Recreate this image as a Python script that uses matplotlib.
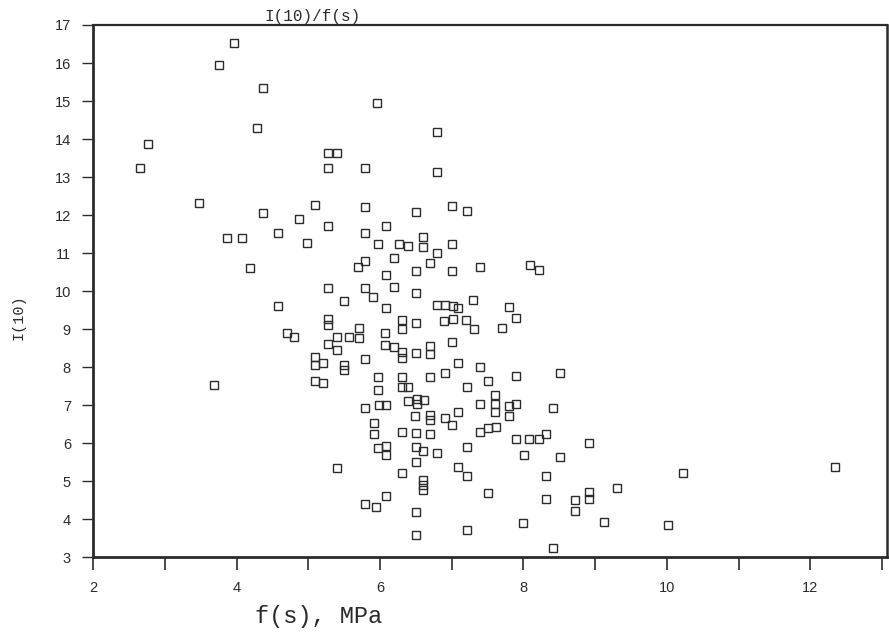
"""Scatter of I(10) against f(s), redrawn from a scanned figure."""

import matplotlib

matplotlib.use("Agg")
import matplotlib.pyplot as plt  # noqa: E402
from matplotlib.ticker import MultipleLocator  # noqa: E402

# f(s) in MPa
fs_mpa = [
    3.96, 3.76, 4.37, 5.96, 4.28, 2.77, 2.66, 5.28, 5.40, 5.28,
    5.79, 3.48, 5.09, 5.79, 4.37, 4.87, 5.28, 5.79, 4.58, 3.86,
    4.08, 4.98, 5.97, 4.18, 5.79, 5.69, 5.28, 5.79, 5.90, 5.50,
    4.58, 5.28, 5.28, 5.70, 5.70, 5.57, 5.40, 4.70, 4.80, 5.28,
    5.40, 5.79, 5.09, 5.09, 5.21, 5.50, 5.50, 5.09, 5.21, 3.69,
    5.97, 5.97, 5.79, 5.91, 5.91, 5.97, 5.40, 5.79, 5.95,
    6.79, 6.79, 6.50, 7.00, 7.21, 6.09, 6.60, 6.60, 6.27, 6.39,
    7.00, 6.79, 6.20, 6.70, 6.50, 7.00, 7.39, 8.09, 8.21, 6.09,
    6.20, 6.50, 6.09, 6.79, 6.91, 7.02, 7.09, 7.30, 7.80, 7.90,
    6.30, 6.30, 6.50, 6.89, 7.02, 7.20, 7.31, 7.70, 6.07, 6.07,
    6.20, 6.30, 6.30, 6.50, 6.70, 6.70, 7.00, 7.09, 7.39, 6.30,
    6.30, 6.39, 6.70, 6.91, 7.50, 7.21, 7.90, 8.51, 5.99, 6.09,
    6.39, 6.51, 6.51, 6.61, 7.09, 7.39, 7.60, 7.60, 7.60, 7.80,
    7.80, 7.90, 8.41, 6.49, 6.70, 6.70, 6.91, 7.00, 6.30, 6.50,
    6.70, 7.39, 7.50, 7.62, 7.90, 8.08, 8.21, 8.32, 8.92, 6.09,
    6.09, 6.50, 6.60, 6.79, 7.21, 8.01, 8.51, 6.50, 7.09, 7.21,
    6.30, 6.60, 6.60, 6.60, 8.32, 7.50, 8.32, 6.09, 6.50, 6.50,
    7.21, 8.00, 8.41, 8.72, 8.72, 8.92, 8.92, 9.12, 9.31, 10.23,
    10.02, 12.34,
]

# I(10), same order
i10 = [
    16.53, 15.95, 15.33, 14.95, 14.28, 13.87, 13.23, 13.64, 13.64, 13.24,
    13.24, 12.32, 12.26, 12.22, 12.06, 11.89, 11.71, 11.52, 11.52, 11.40,
    11.40, 11.26, 11.24, 10.60, 10.80, 10.62, 10.07, 10.07, 9.85, 9.74,
    9.61, 9.26, 9.11, 9.02, 8.76, 8.80, 8.80, 8.90, 8.78, 8.61,
    8.45, 8.20, 8.27, 8.05, 8.11, 8.05, 7.92, 7.64, 7.57, 7.53,
    7.73, 7.39, 6.91, 6.53, 6.24, 5.86, 5.33, 4.39, 4.32,
    14.18, 13.13, 12.07, 12.24, 12.11, 11.71, 11.43, 11.15, 11.24, 11.18,
    11.24, 10.99, 10.86, 10.73, 10.53, 10.53, 10.64, 10.68, 10.55, 10.42,
    10.11, 9.94, 9.54, 9.63, 9.63, 9.61, 9.54, 9.76, 9.57, 9.28,
    9.25, 8.99, 9.15, 9.22, 9.26, 9.24, 8.99, 9.02, 8.89, 8.58,
    8.52, 8.40, 8.23, 8.38, 8.54, 8.34, 8.67, 8.10, 8.01, 7.74,
    7.47, 7.48, 7.74, 7.85, 7.64, 7.48, 7.76, 7.85, 7.00, 7.00,
    7.11, 7.15, 7.03, 7.13, 6.82, 7.04, 7.26, 7.04, 6.82, 6.97,
    6.71, 7.04, 6.91, 6.71, 6.74, 6.61, 6.65, 6.47, 6.30, 6.27,
    6.24, 6.30, 6.39, 6.43, 6.10, 6.10, 6.10, 6.25, 5.99, 5.92,
    5.68, 5.90, 5.80, 5.75, 5.89, 5.68, 5.64, 5.51, 5.36, 5.13,
    5.20, 5.03, 4.89, 4.76, 5.13, 4.68, 4.52, 4.60, 4.19, 3.58,
    3.71, 3.90, 3.23, 4.50, 4.21, 4.70, 4.52, 3.93, 4.81, 5.20,
    3.84, 5.38,
]

x_major_ticks = [2, 4, 6, 8, 10, 12]
y_ticks = list(range(3, 18))

INK = "#2b2b2b"
MONO = ["Liberation Mono", "DejaVu Sans Mono"]
SANS = ["Liberation Sans", "DejaVu Sans"]

fig = plt.figure(figsize=(8.89, 6.41), dpi=100)
ax = fig.add_axes([0.1048, 0.131, 0.893, 0.830])

ax.plot(
    fs_mpa,
    i10,
    linestyle="none",
    marker="s",
    markersize=6.0,
    markerfacecolor="none",
    markeredgecolor=INK,
    markeredgewidth=1.0,
)

ax.set_xlim(2, 13.07)
ax.set_ylim(3, 17)
ax.set_xticks(x_major_ticks)
ax.xaxis.set_minor_locator(MultipleLocator(1))
ax.set_yticks(y_ticks)

ax.tick_params(axis="x", which="both", direction="out", length=9, width=1.2,
               color=INK, labelcolor=INK, pad=8)
ax.tick_params(axis="y", direction="out", length=8, width=1.0,
               color=INK, labelcolor=INK, pad=8)
for label in ax.get_xticklabels() + ax.get_yticklabels():
    label.set_fontfamily(SANS)
    label.set_fontsize(10.5)

for side, width in (("left", 2.0), ("bottom", 2.0), ("top", 1.6), ("right", 1.8)):
    ax.spines[side].set_linewidth(width)
    ax.spines[side].set_color(INK)

fig.text(0.351, 0.975, "I(10)/f(s)", family=MONO, fontsize=11.5,
         color=INK, ha="center", va="center")
fig.text(0.358, 0.02, "f(s), MPa", family=MONO, fontsize=17,
         color=INK, ha="center", va="bottom")
ax.text(-0.094, 9.3, "I(10)", transform=ax.get_yaxis_transform(), family=MONO,
        fontsize=11, color=INK, rotation=90, ha="center", va="center")

fig.savefig("out.png", dpi=100, facecolor="white")
plt.close(fig)
